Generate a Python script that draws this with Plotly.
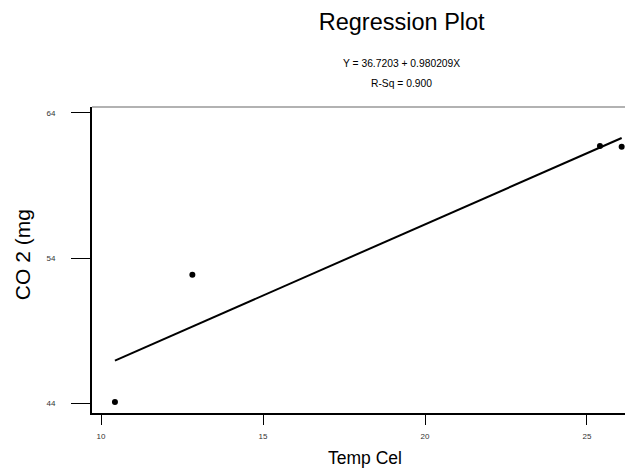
import plotly.graph_objects as go

# Data
temp_cel = [10.43, 12.82, 25.40, 26.07]
co2_mg = [44.09, 52.85, 61.72, 61.68]
intercept = 36.7203
slope = 0.980209
r_sq = 0.900
x_ticks = [10, 15, 20, 25]
y_ticks = [44, 54, 64]

x_line = [min(temp_cel), max(temp_cel)]
y_line = [intercept + slope * v for v in x_line]

FONT = "Liberation Sans, Arial, sans-serif"
OFF = 8  # page body margin

W, H = 633 - OFF, 472 - OFF
PL, PR, PT, PB = 92 - OFF, 633 - OFF, 107 - OFF, 412.7 - OFF
PW, PH = PR - PL, PB - PT

def px(x):
    return (x - OFF - PL) / PW

def py(y):
    return (PB - (y - OFF)) / PH

fig = go.Figure()
fig.add_trace(go.Scatter(x=x_line, y=y_line, mode="lines",
                         line=dict(color="black", width=2), showlegend=False,
                         hoverinfo="skip"))
fig.add_trace(go.Scatter(x=temp_cel, y=co2_mg, mode="markers",
                         marker=dict(color="black", size=6), showlegend=False))

fig.update_layout(
    width=W, height=H,
    margin=dict(l=PL, r=W - PR, t=PT, b=H - PB),
    paper_bgcolor="white", plot_bgcolor="white",
    font=dict(family=FONT, color="black"),
    title=dict(text="Regression Plot", x=(401.7 - OFF) / W, xref="container", xanchor="center",
               y=1 - (22 - OFF) / H, yref="container", yanchor="middle",
               font=dict(size=23.5, family=FONT, color="black")),
    xaxis=dict(range=[9.722, 26.42], tickvals=x_ticks, ticktext=[str(v) for v in x_ticks],
               showgrid=False, zeroline=False, showline=True, linecolor="black", linewidth=2,
               ticks="outside", ticklen=10, tickcolor="black", tickwidth=1,
               tickfont=dict(size=8, family=FONT, color="#333333"), ticklabelstandoff=4),
    yaxis=dict(range=[43.331, 64.41], tickvals=y_ticks, ticktext=[str(v) for v in y_ticks],
               showgrid=False, zeroline=False, showline=True, linecolor="black", linewidth=2,
               ticks="outside", ticklen=19, tickcolor="black", tickwidth=1,
               tickfont=dict(size=8, family=FONT, color="#333333"), ticklabelstandoff=14),
    annotations=[
        dict(text=f"Y = {intercept} + {slope}X", xref="paper", yref="paper",
             x=px(401.7), y=py(64), showarrow=False,
             xanchor="center", yanchor="middle", font=dict(size=10.3, family=FONT)),
        dict(text=f"R-Sq = {r_sq:.3f}", xref="paper", yref="paper",
             x=px(401.7), y=py(84), showarrow=False,
             xanchor="center", yanchor="middle", font=dict(size=10.3, family=FONT)),
        dict(text="Temp Cel", xref="paper", yref="paper",
             x=px(365), y=py(458), showarrow=False,
             xanchor="center", yanchor="middle", font=dict(size=17.5, family=FONT)),
        dict(text="CO 2 (mg", xref="paper", yref="paper", textangle=-90,
             x=px(22), y=py(255), showarrow=False,
             xanchor="center", yanchor="middle", font=dict(size=21, family=FONT)),
    ],
    shapes=[dict(type="line", xref="paper", yref="paper", x0=0, x1=1, y0=1, y1=1,
                 line=dict(color="#666666", width=1.2))],
)

fig.write_html("out.html")
